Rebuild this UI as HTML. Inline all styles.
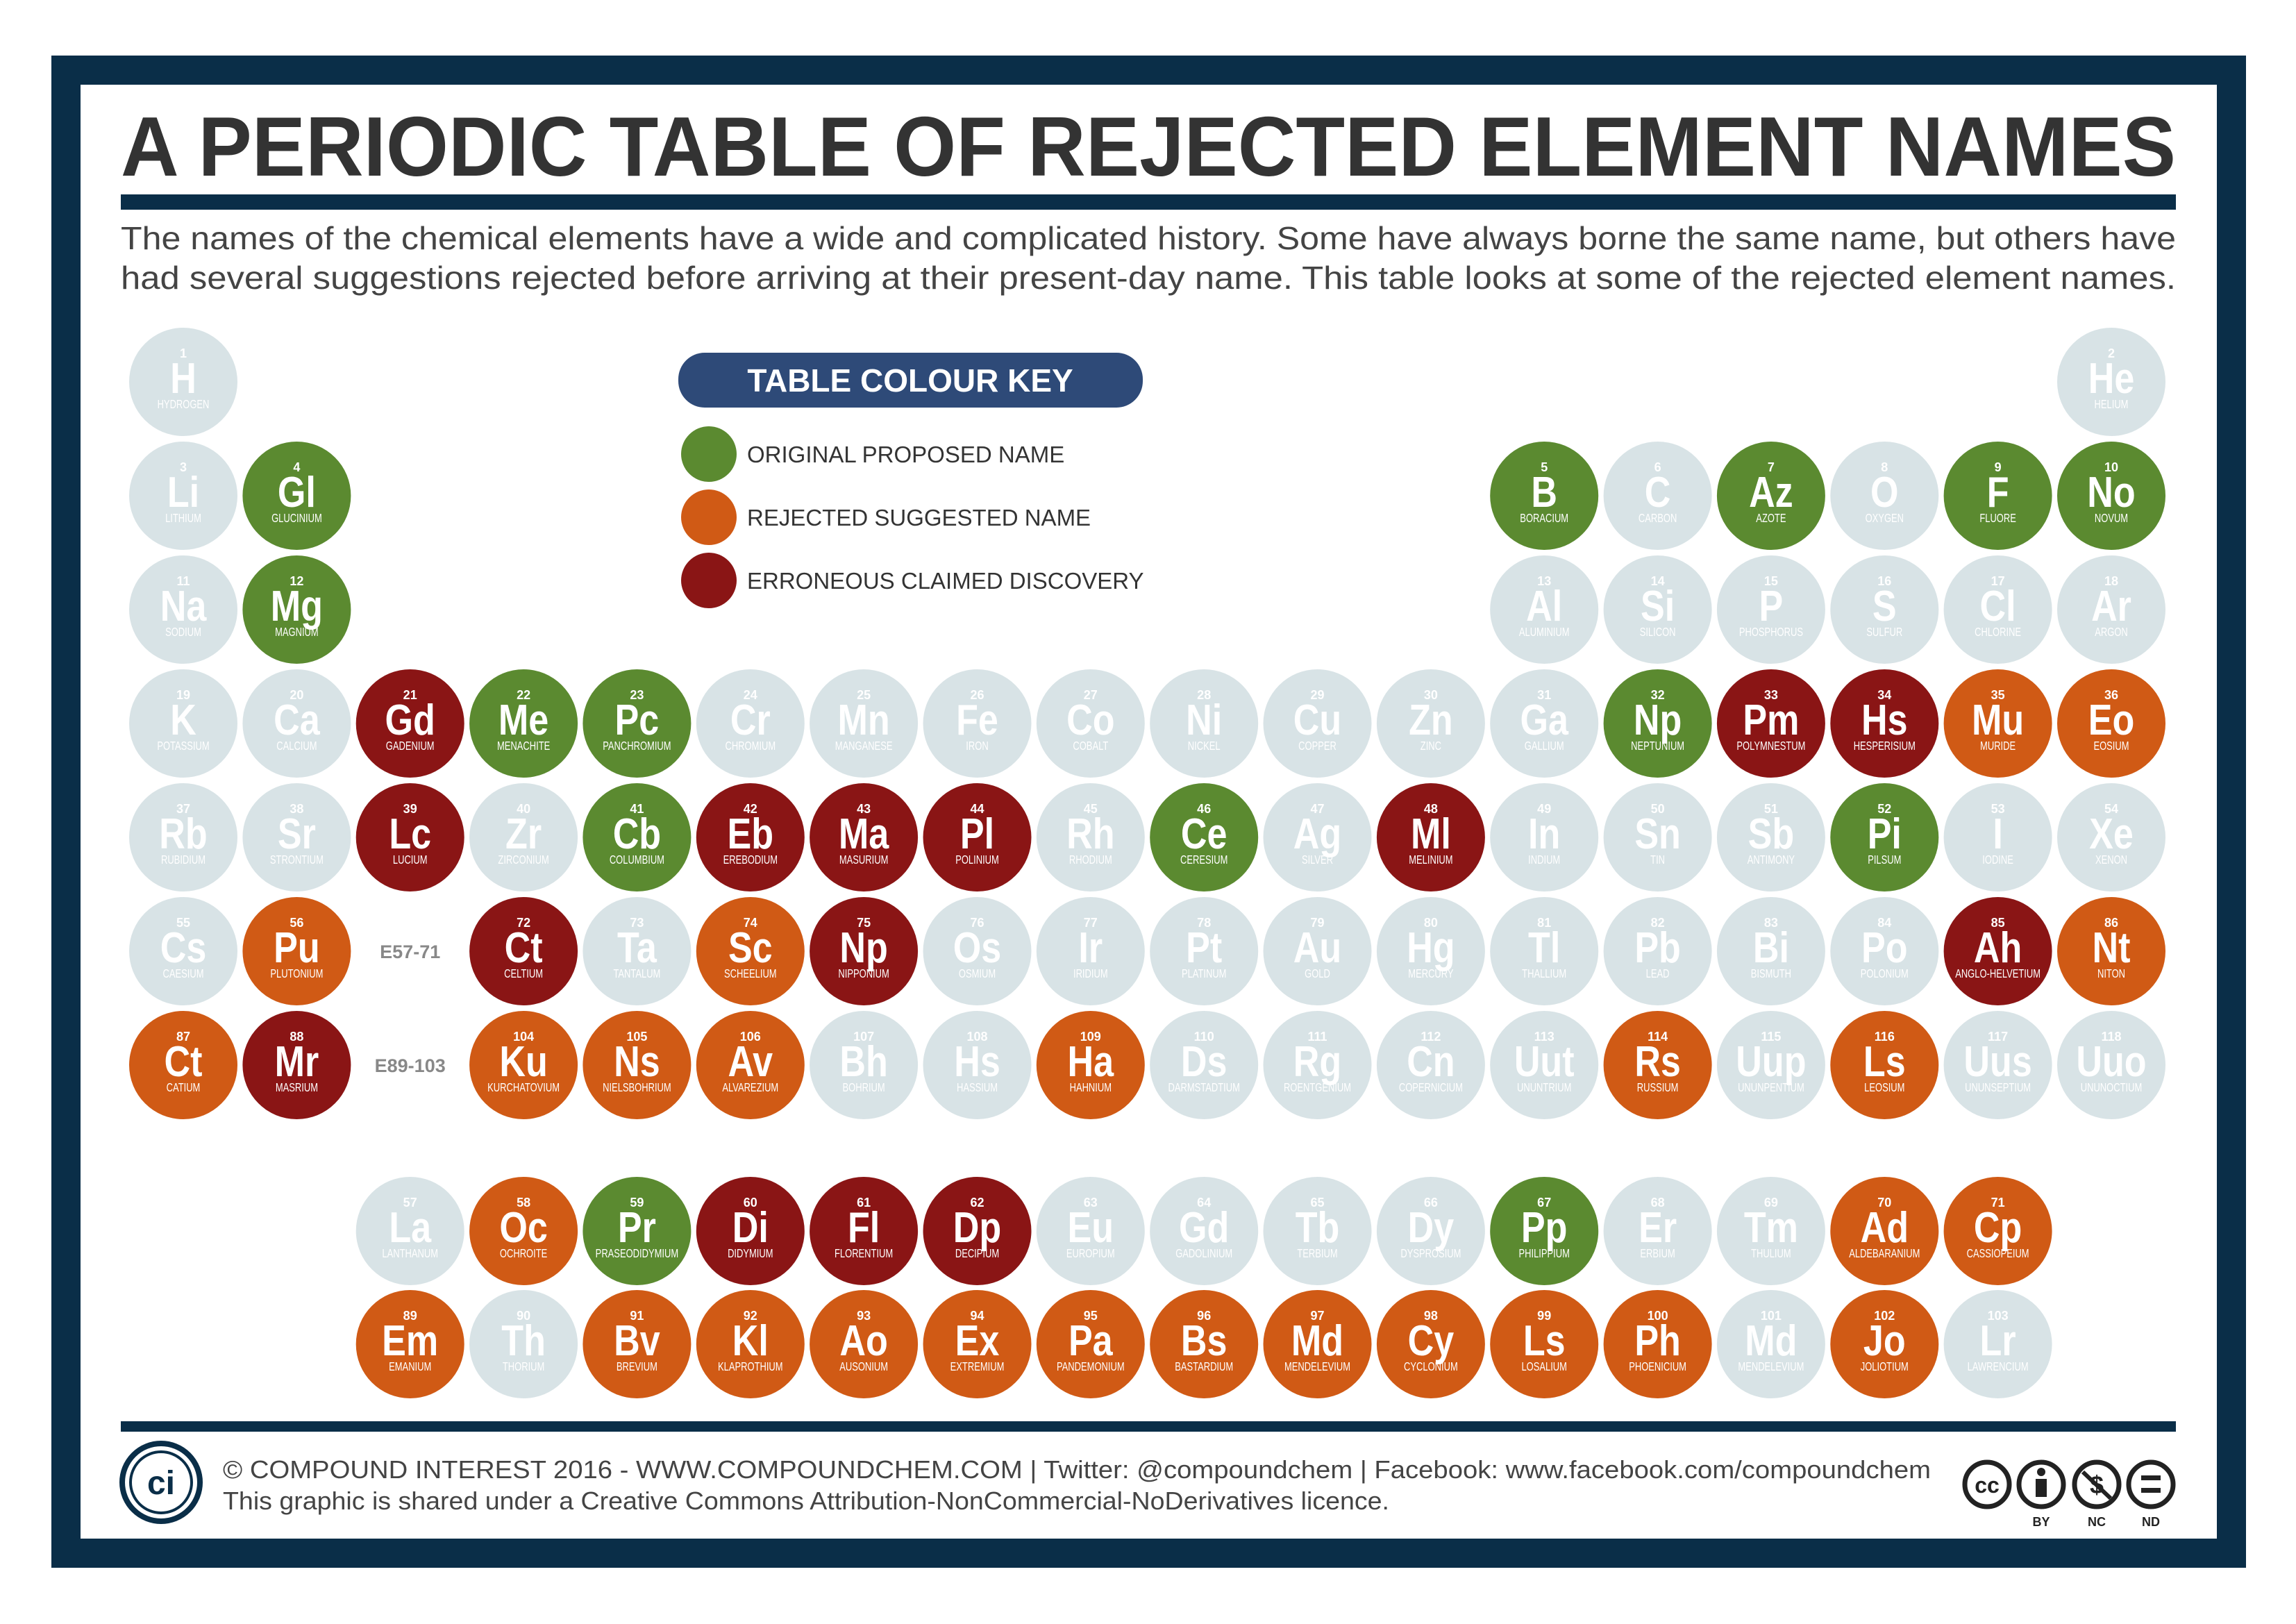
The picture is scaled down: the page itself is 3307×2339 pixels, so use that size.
<!DOCTYPE html>
<html><head><meta charset="utf-8"><style>
html,body{margin:0;padding:0;background:#fff}
svg{display:block}
text{font-family:"Liberation Sans",sans-serif}
.n{font-size:18px;font-weight:bold;fill:#fff;text-anchor:middle}
.s{font-family:"Liberation Sans Narrow","Liberation Sans",sans-serif;font-size:62px;font-weight:bold;fill:#fff;text-anchor:middle;transform:scaleX(.84)}
.m{font-family:"Liberation Sans Narrow","Liberation Sans",sans-serif;font-size:18px;fill:#fff;text-anchor:middle;transform:scaleX(.72)}
.x{fill:#d8e3e6}.g{fill:#5b8a30}.o{fill:#d05a15}.r{fill:#8a1515}
.lab{font-size:27px;font-weight:bold;fill:#888;text-anchor:middle}
.leg{font-size:33px;fill:#333}
</style></head><body>
<svg width="3307" height="2339" viewBox="0 0 3307 2339" xmlns="http://www.w3.org/2000/svg">
<rect x="74" y="80" width="3161" height="2178" fill="#0a2e48"/>
<rect x="116" y="122" width="3077" height="2094" fill="#fff"/>
<text x="174" y="253" font-size="122" font-weight="bold" fill="#333" textLength="2960" lengthAdjust="spacingAndGlyphs">A PERIODIC TABLE OF REJECTED ELEMENT NAMES</text>
<rect x="174" y="280" width="2960" height="22" fill="#0a2e48"/>
<text x="174" y="359" font-size="46" fill="#444" textLength="2960" lengthAdjust="spacingAndGlyphs">The names of the chemical elements have a wide and complicated history. Some have always borne the same name, but others have</text>
<text x="174" y="416" font-size="46" fill="#444" textLength="2960" lengthAdjust="spacingAndGlyphs">had several suggestions rejected before arriving at their present-day name. This table looks at some of the rejected element names.</text>

<rect x="977" y="508" width="669" height="79" rx="38" fill="#2e4a78"/>
<text x="1311" y="564" font-size="46" font-weight="bold" fill="#fff" text-anchor="middle">TABLE COLOUR KEY</text>
<circle cx="1021" cy="654" r="40" class="g"/><text x="1076" y="666" class="leg">ORIGINAL PROPOSED NAME</text>
<circle cx="1021" cy="745" r="40" class="o"/><text x="1076" y="757" class="leg">REJECTED SUGGESTED NAME</text>
<circle cx="1021" cy="836" r="40" class="r"/><text x="1076" y="848" class="leg">ERRONEOUS CLAIMED DISCOVERY</text>

<!-- Row 1 -->
<g transform="translate(264,550)"><circle r="78" class="x"/><text class="n" y="-35">1</text><text class="s" y="16">H</text><text class="m" y="38">HYDROGEN</text></g>
<g transform="translate(3041,550)"><circle r="78" class="x"/><text class="n" y="-35">2</text><text class="s" y="16">He</text><text class="m" y="38">HELIUM</text></g>
<!-- Row 2 -->
<g transform="translate(264,714)"><circle r="78" class="x"/><text class="n" y="-35">3</text><text class="s" y="16">Li</text><text class="m" y="38">LITHIUM</text></g>
<g transform="translate(427.4,714)"><circle r="78" class="g"/><text class="n" y="-35">4</text><text class="s" y="16">Gl</text><text class="m" y="38">GLUCINIUM</text></g>
<g transform="translate(2224.2,714)"><circle r="78" class="g"/><text class="n" y="-35">5</text><text class="s" y="16">B</text><text class="m" y="38">BORACIUM</text></g>
<g transform="translate(2387.6,714)"><circle r="78" class="x"/><text class="n" y="-35">6</text><text class="s" y="16">C</text><text class="m" y="38">CARBON</text></g>
<g transform="translate(2550.9,714)"><circle r="78" class="g"/><text class="n" y="-35">7</text><text class="s" y="16">Az</text><text class="m" y="38">AZOTE</text></g>
<g transform="translate(2714.3,714)"><circle r="78" class="x"/><text class="n" y="-35">8</text><text class="s" y="16">O</text><text class="m" y="38">OXYGEN</text></g>
<g transform="translate(2877.6,714)"><circle r="78" class="g"/><text class="n" y="-35">9</text><text class="s" y="16">F</text><text class="m" y="38">FLUORE</text></g>
<g transform="translate(3041,714)"><circle r="78" class="g"/><text class="n" y="-35">10</text><text class="s" y="16">No</text><text class="m" y="38">NOVUM</text></g>
<!-- Row 3 -->
<g transform="translate(264,878)"><circle r="78" class="x"/><text class="n" y="-35">11</text><text class="s" y="16">Na</text><text class="m" y="38">SODIUM</text></g>
<g transform="translate(427.4,878)"><circle r="78" class="g"/><text class="n" y="-35">12</text><text class="s" y="16">Mg</text><text class="m" y="38">MAGNIUM</text></g>
<g transform="translate(2224.2,878)"><circle r="78" class="x"/><text class="n" y="-35">13</text><text class="s" y="16">Al</text><text class="m" y="38">ALUMINIUM</text></g>
<g transform="translate(2387.6,878)"><circle r="78" class="x"/><text class="n" y="-35">14</text><text class="s" y="16">Si</text><text class="m" y="38">SILICON</text></g>
<g transform="translate(2550.9,878)"><circle r="78" class="x"/><text class="n" y="-35">15</text><text class="s" y="16">P</text><text class="m" y="38">PHOSPHORUS</text></g>
<g transform="translate(2714.3,878)"><circle r="78" class="x"/><text class="n" y="-35">16</text><text class="s" y="16">S</text><text class="m" y="38">SULFUR</text></g>
<g transform="translate(2877.6,878)"><circle r="78" class="x"/><text class="n" y="-35">17</text><text class="s" y="16">Cl</text><text class="m" y="38">CHLORINE</text></g>
<g transform="translate(3041,878)"><circle r="78" class="x"/><text class="n" y="-35">18</text><text class="s" y="16">Ar</text><text class="m" y="38">ARGON</text></g>
<!-- Row 4 -->
<g transform="translate(264,1042)"><circle r="78" class="x"/><text class="n" y="-35">19</text><text class="s" y="16">K</text><text class="m" y="38">POTASSIUM</text></g>
<g transform="translate(427.4,1042)"><circle r="78" class="x"/><text class="n" y="-35">20</text><text class="s" y="16">Ca</text><text class="m" y="38">CALCIUM</text></g>
<g transform="translate(590.7,1042)"><circle r="78" class="r"/><text class="n" y="-35">21</text><text class="s" y="16">Gd</text><text class="m" y="38">GADENIUM</text></g>
<g transform="translate(754.1,1042)"><circle r="78" class="g"/><text class="n" y="-35">22</text><text class="s" y="16">Me</text><text class="m" y="38">MENACHITE</text></g>
<g transform="translate(917.4,1042)"><circle r="78" class="g"/><text class="n" y="-35">23</text><text class="s" y="16">Pc</text><text class="m" y="38">PANCHROMIUM</text></g>
<g transform="translate(1080.8,1042)"><circle r="78" class="x"/><text class="n" y="-35">24</text><text class="s" y="16">Cr</text><text class="m" y="38">CHROMIUM</text></g>
<g transform="translate(1244.1,1042)"><circle r="78" class="x"/><text class="n" y="-35">25</text><text class="s" y="16">Mn</text><text class="m" y="38">MANGANESE</text></g>
<g transform="translate(1407.5,1042)"><circle r="78" class="x"/><text class="n" y="-35">26</text><text class="s" y="16">Fe</text><text class="m" y="38">IRON</text></g>
<g transform="translate(1570.8,1042)"><circle r="78" class="x"/><text class="n" y="-35">27</text><text class="s" y="16">Co</text><text class="m" y="38">COBALT</text></g>
<g transform="translate(1734.2,1042)"><circle r="78" class="x"/><text class="n" y="-35">28</text><text class="s" y="16">Ni</text><text class="m" y="38">NICKEL</text></g>
<g transform="translate(1897.5,1042)"><circle r="78" class="x"/><text class="n" y="-35">29</text><text class="s" y="16">Cu</text><text class="m" y="38">COPPER</text></g>
<g transform="translate(2060.9,1042)"><circle r="78" class="x"/><text class="n" y="-35">30</text><text class="s" y="16">Zn</text><text class="m" y="38">ZINC</text></g>
<g transform="translate(2224.2,1042)"><circle r="78" class="x"/><text class="n" y="-35">31</text><text class="s" y="16">Ga</text><text class="m" y="38">GALLIUM</text></g>
<g transform="translate(2387.6,1042)"><circle r="78" class="g"/><text class="n" y="-35">32</text><text class="s" y="16">Np</text><text class="m" y="38">NEPTUNIUM</text></g>
<g transform="translate(2550.9,1042)"><circle r="78" class="r"/><text class="n" y="-35">33</text><text class="s" y="16">Pm</text><text class="m" y="38">POLYMNESTUM</text></g>
<g transform="translate(2714.3,1042)"><circle r="78" class="r"/><text class="n" y="-35">34</text><text class="s" y="16">Hs</text><text class="m" y="38">HESPERISIUM</text></g>
<g transform="translate(2877.6,1042)"><circle r="78" class="o"/><text class="n" y="-35">35</text><text class="s" y="16">Mu</text><text class="m" y="38">MURIDE</text></g>
<g transform="translate(3041,1042)"><circle r="78" class="o"/><text class="n" y="-35">36</text><text class="s" y="16">Eo</text><text class="m" y="38">EOSIUM</text></g>
<!-- Row 5 -->
<g transform="translate(264,1206)"><circle r="78" class="x"/><text class="n" y="-35">37</text><text class="s" y="16">Rb</text><text class="m" y="38">RUBIDIUM</text></g>
<g transform="translate(427.4,1206)"><circle r="78" class="x"/><text class="n" y="-35">38</text><text class="s" y="16">Sr</text><text class="m" y="38">STRONTIUM</text></g>
<g transform="translate(590.7,1206)"><circle r="78" class="r"/><text class="n" y="-35">39</text><text class="s" y="16">Lc</text><text class="m" y="38">LUCIUM</text></g>
<g transform="translate(754.1,1206)"><circle r="78" class="x"/><text class="n" y="-35">40</text><text class="s" y="16">Zr</text><text class="m" y="38">ZIRCONIUM</text></g>
<g transform="translate(917.4,1206)"><circle r="78" class="g"/><text class="n" y="-35">41</text><text class="s" y="16">Cb</text><text class="m" y="38">COLUMBIUM</text></g>
<g transform="translate(1080.8,1206)"><circle r="78" class="r"/><text class="n" y="-35">42</text><text class="s" y="16">Eb</text><text class="m" y="38">EREBODIUM</text></g>
<g transform="translate(1244.1,1206)"><circle r="78" class="r"/><text class="n" y="-35">43</text><text class="s" y="16">Ma</text><text class="m" y="38">MASURIUM</text></g>
<g transform="translate(1407.5,1206)"><circle r="78" class="r"/><text class="n" y="-35">44</text><text class="s" y="16">Pl</text><text class="m" y="38">POLINIUM</text></g>
<g transform="translate(1570.8,1206)"><circle r="78" class="x"/><text class="n" y="-35">45</text><text class="s" y="16">Rh</text><text class="m" y="38">RHODIUM</text></g>
<g transform="translate(1734.2,1206)"><circle r="78" class="g"/><text class="n" y="-35">46</text><text class="s" y="16">Ce</text><text class="m" y="38">CERESIUM</text></g>
<g transform="translate(1897.5,1206)"><circle r="78" class="x"/><text class="n" y="-35">47</text><text class="s" y="16">Ag</text><text class="m" y="38">SILVER</text></g>
<g transform="translate(2060.9,1206)"><circle r="78" class="r"/><text class="n" y="-35">48</text><text class="s" y="16">Ml</text><text class="m" y="38">MELINIUM</text></g>
<g transform="translate(2224.2,1206)"><circle r="78" class="x"/><text class="n" y="-35">49</text><text class="s" y="16">In</text><text class="m" y="38">INDIUM</text></g>
<g transform="translate(2387.6,1206)"><circle r="78" class="x"/><text class="n" y="-35">50</text><text class="s" y="16">Sn</text><text class="m" y="38">TIN</text></g>
<g transform="translate(2550.9,1206)"><circle r="78" class="x"/><text class="n" y="-35">51</text><text class="s" y="16">Sb</text><text class="m" y="38">ANTIMONY</text></g>
<g transform="translate(2714.3,1206)"><circle r="78" class="g"/><text class="n" y="-35">52</text><text class="s" y="16">Pi</text><text class="m" y="38">PILSUM</text></g>
<g transform="translate(2877.6,1206)"><circle r="78" class="x"/><text class="n" y="-35">53</text><text class="s" y="16">I</text><text class="m" y="38">IODINE</text></g>
<g transform="translate(3041,1206)"><circle r="78" class="x"/><text class="n" y="-35">54</text><text class="s" y="16">Xe</text><text class="m" y="38">XENON</text></g>
<!-- Row 6 -->
<g transform="translate(264,1370)"><circle r="78" class="x"/><text class="n" y="-35">55</text><text class="s" y="16">Cs</text><text class="m" y="38">CAESIUM</text></g>
<g transform="translate(427.4,1370)"><circle r="78" class="o"/><text class="n" y="-35">56</text><text class="s" y="16">Pu</text><text class="m" y="38">PLUTONIUM</text></g>
<text class="lab" x="590.7" y="1380">E57-71</text>
<g transform="translate(754.1,1370)"><circle r="78" class="r"/><text class="n" y="-35">72</text><text class="s" y="16">Ct</text><text class="m" y="38">CELTIUM</text></g>
<g transform="translate(917.4,1370)"><circle r="78" class="x"/><text class="n" y="-35">73</text><text class="s" y="16">Ta</text><text class="m" y="38">TANTALUM</text></g>
<g transform="translate(1080.8,1370)"><circle r="78" class="o"/><text class="n" y="-35">74</text><text class="s" y="16">Sc</text><text class="m" y="38">SCHEELIUM</text></g>
<g transform="translate(1244.1,1370)"><circle r="78" class="r"/><text class="n" y="-35">75</text><text class="s" y="16">Np</text><text class="m" y="38">NIPPONIUM</text></g>
<g transform="translate(1407.5,1370)"><circle r="78" class="x"/><text class="n" y="-35">76</text><text class="s" y="16">Os</text><text class="m" y="38">OSMIUM</text></g>
<g transform="translate(1570.8,1370)"><circle r="78" class="x"/><text class="n" y="-35">77</text><text class="s" y="16">Ir</text><text class="m" y="38">IRIDIUM</text></g>
<g transform="translate(1734.2,1370)"><circle r="78" class="x"/><text class="n" y="-35">78</text><text class="s" y="16">Pt</text><text class="m" y="38">PLATINUM</text></g>
<g transform="translate(1897.5,1370)"><circle r="78" class="x"/><text class="n" y="-35">79</text><text class="s" y="16">Au</text><text class="m" y="38">GOLD</text></g>
<g transform="translate(2060.9,1370)"><circle r="78" class="x"/><text class="n" y="-35">80</text><text class="s" y="16">Hg</text><text class="m" y="38">MERCURY</text></g>
<g transform="translate(2224.2,1370)"><circle r="78" class="x"/><text class="n" y="-35">81</text><text class="s" y="16">Tl</text><text class="m" y="38">THALLIUM</text></g>
<g transform="translate(2387.6,1370)"><circle r="78" class="x"/><text class="n" y="-35">82</text><text class="s" y="16">Pb</text><text class="m" y="38">LEAD</text></g>
<g transform="translate(2550.9,1370)"><circle r="78" class="x"/><text class="n" y="-35">83</text><text class="s" y="16">Bi</text><text class="m" y="38">BISMUTH</text></g>
<g transform="translate(2714.3,1370)"><circle r="78" class="x"/><text class="n" y="-35">84</text><text class="s" y="16">Po</text><text class="m" y="38">POLONIUM</text></g>
<g transform="translate(2877.6,1370)"><circle r="78" class="r"/><text class="n" y="-35">85</text><text class="s" y="16">Ah</text><text class="m" y="38">ANGLO-HELVETIUM</text></g>
<g transform="translate(3041,1370)"><circle r="78" class="o"/><text class="n" y="-35">86</text><text class="s" y="16">Nt</text><text class="m" y="38">NITON</text></g>
<!-- Row 7 -->
<g transform="translate(264,1534)"><circle r="78" class="o"/><text class="n" y="-35">87</text><text class="s" y="16">Ct</text><text class="m" y="38">CATIUM</text></g>
<g transform="translate(427.4,1534)"><circle r="78" class="r"/><text class="n" y="-35">88</text><text class="s" y="16">Mr</text><text class="m" y="38">MASRIUM</text></g>
<text class="lab" x="590.7" y="1544">E89-103</text>
<g transform="translate(754.1,1534)"><circle r="78" class="o"/><text class="n" y="-35">104</text><text class="s" y="16">Ku</text><text class="m" y="38">KURCHATOVIUM</text></g>
<g transform="translate(917.4,1534)"><circle r="78" class="o"/><text class="n" y="-35">105</text><text class="s" y="16">Ns</text><text class="m" y="38">NIELSBOHRIUM</text></g>
<g transform="translate(1080.8,1534)"><circle r="78" class="o"/><text class="n" y="-35">106</text><text class="s" y="16">Av</text><text class="m" y="38">ALVAREZIUM</text></g>
<g transform="translate(1244.1,1534)"><circle r="78" class="x"/><text class="n" y="-35">107</text><text class="s" y="16">Bh</text><text class="m" y="38">BOHRIUM</text></g>
<g transform="translate(1407.5,1534)"><circle r="78" class="x"/><text class="n" y="-35">108</text><text class="s" y="16">Hs</text><text class="m" y="38">HASSIUM</text></g>
<g transform="translate(1570.8,1534)"><circle r="78" class="o"/><text class="n" y="-35">109</text><text class="s" y="16">Ha</text><text class="m" y="38">HAHNIUM</text></g>
<g transform="translate(1734.2,1534)"><circle r="78" class="x"/><text class="n" y="-35">110</text><text class="s" y="16">Ds</text><text class="m" y="38">DARMSTADTIUM</text></g>
<g transform="translate(1897.5,1534)"><circle r="78" class="x"/><text class="n" y="-35">111</text><text class="s" y="16">Rg</text><text class="m" y="38">ROENTGENIUM</text></g>
<g transform="translate(2060.9,1534)"><circle r="78" class="x"/><text class="n" y="-35">112</text><text class="s" y="16">Cn</text><text class="m" y="38">COPERNICIUM</text></g>
<g transform="translate(2224.2,1534)"><circle r="78" class="x"/><text class="n" y="-35">113</text><text class="s" y="16">Uut</text><text class="m" y="38">UNUNTRIUM</text></g>
<g transform="translate(2387.6,1534)"><circle r="78" class="o"/><text class="n" y="-35">114</text><text class="s" y="16">Rs</text><text class="m" y="38">RUSSIUM</text></g>
<g transform="translate(2550.9,1534)"><circle r="78" class="x"/><text class="n" y="-35">115</text><text class="s" y="16">Uup</text><text class="m" y="38">UNUNPENTIUM</text></g>
<g transform="translate(2714.3,1534)"><circle r="78" class="o"/><text class="n" y="-35">116</text><text class="s" y="16">Ls</text><text class="m" y="38">LEOSIUM</text></g>
<g transform="translate(2877.6,1534)"><circle r="78" class="x"/><text class="n" y="-35">117</text><text class="s" y="16">Uus</text><text class="m" y="38">UNUNSEPTIUM</text></g>
<g transform="translate(3041,1534)"><circle r="78" class="x"/><text class="n" y="-35">118</text><text class="s" y="16">Uuo</text><text class="m" y="38">UNUNOCTIUM</text></g>
<!-- Lanthanides -->
<g transform="translate(590.7,1773)"><circle r="78" class="x"/><text class="n" y="-35">57</text><text class="s" y="16">La</text><text class="m" y="38">LANTHANUM</text></g>
<g transform="translate(754.1,1773)"><circle r="78" class="o"/><text class="n" y="-35">58</text><text class="s" y="16">Oc</text><text class="m" y="38">OCHROITE</text></g>
<g transform="translate(917.4,1773)"><circle r="78" class="g"/><text class="n" y="-35">59</text><text class="s" y="16">Pr</text><text class="m" y="38">PRASEODIDYMIUM</text></g>
<g transform="translate(1080.8,1773)"><circle r="78" class="r"/><text class="n" y="-35">60</text><text class="s" y="16">Di</text><text class="m" y="38">DIDYMIUM</text></g>
<g transform="translate(1244.1,1773)"><circle r="78" class="r"/><text class="n" y="-35">61</text><text class="s" y="16">Fl</text><text class="m" y="38">FLORENTIUM</text></g>
<g transform="translate(1407.5,1773)"><circle r="78" class="r"/><text class="n" y="-35">62</text><text class="s" y="16">Dp</text><text class="m" y="38">DECIPIUM</text></g>
<g transform="translate(1570.8,1773)"><circle r="78" class="x"/><text class="n" y="-35">63</text><text class="s" y="16">Eu</text><text class="m" y="38">EUROPIUM</text></g>
<g transform="translate(1734.2,1773)"><circle r="78" class="x"/><text class="n" y="-35">64</text><text class="s" y="16">Gd</text><text class="m" y="38">GADOLINIUM</text></g>
<g transform="translate(1897.5,1773)"><circle r="78" class="x"/><text class="n" y="-35">65</text><text class="s" y="16">Tb</text><text class="m" y="38">TERBIUM</text></g>
<g transform="translate(2060.9,1773)"><circle r="78" class="x"/><text class="n" y="-35">66</text><text class="s" y="16">Dy</text><text class="m" y="38">DYSPROSIUM</text></g>
<g transform="translate(2224.2,1773)"><circle r="78" class="g"/><text class="n" y="-35">67</text><text class="s" y="16">Pp</text><text class="m" y="38">PHILIPPIUM</text></g>
<g transform="translate(2387.6,1773)"><circle r="78" class="x"/><text class="n" y="-35">68</text><text class="s" y="16">Er</text><text class="m" y="38">ERBIUM</text></g>
<g transform="translate(2550.9,1773)"><circle r="78" class="x"/><text class="n" y="-35">69</text><text class="s" y="16">Tm</text><text class="m" y="38">THULIUM</text></g>
<g transform="translate(2714.3,1773)"><circle r="78" class="o"/><text class="n" y="-35">70</text><text class="s" y="16">Ad</text><text class="m" y="38">ALDEBARANIUM</text></g>
<g transform="translate(2877.6,1773)"><circle r="78" class="o"/><text class="n" y="-35">71</text><text class="s" y="16">Cp</text><text class="m" y="38">CASSIOPEIUM</text></g>
<!-- Actinides -->
<g transform="translate(590.7,1936)"><circle r="78" class="o"/><text class="n" y="-35">89</text><text class="s" y="16">Em</text><text class="m" y="38">EMANIUM</text></g>
<g transform="translate(754.1,1936)"><circle r="78" class="x"/><text class="n" y="-35">90</text><text class="s" y="16">Th</text><text class="m" y="38">THORIUM</text></g>
<g transform="translate(917.4,1936)"><circle r="78" class="o"/><text class="n" y="-35">91</text><text class="s" y="16">Bv</text><text class="m" y="38">BREVIUM</text></g>
<g transform="translate(1080.8,1936)"><circle r="78" class="o"/><text class="n" y="-35">92</text><text class="s" y="16">Kl</text><text class="m" y="38">KLAPROTHIUM</text></g>
<g transform="translate(1244.1,1936)"><circle r="78" class="o"/><text class="n" y="-35">93</text><text class="s" y="16">Ao</text><text class="m" y="38">AUSONIUM</text></g>
<g transform="translate(1407.5,1936)"><circle r="78" class="o"/><text class="n" y="-35">94</text><text class="s" y="16">Ex</text><text class="m" y="38">EXTREMIUM</text></g>
<g transform="translate(1570.8,1936)"><circle r="78" class="o"/><text class="n" y="-35">95</text><text class="s" y="16">Pa</text><text class="m" y="38">PANDEMONIUM</text></g>
<g transform="translate(1734.2,1936)"><circle r="78" class="o"/><text class="n" y="-35">96</text><text class="s" y="16">Bs</text><text class="m" y="38">BASTARDIUM</text></g>
<g transform="translate(1897.5,1936)"><circle r="78" class="o"/><text class="n" y="-35">97</text><text class="s" y="16">Md</text><text class="m" y="38">MENDELEVIUM</text></g>
<g transform="translate(2060.9,1936)"><circle r="78" class="o"/><text class="n" y="-35">98</text><text class="s" y="16">Cy</text><text class="m" y="38">CYCLONIUM</text></g>
<g transform="translate(2224.2,1936)"><circle r="78" class="o"/><text class="n" y="-35">99</text><text class="s" y="16">Ls</text><text class="m" y="38">LOSALIUM</text></g>
<g transform="translate(2387.6,1936)"><circle r="78" class="o"/><text class="n" y="-35">100</text><text class="s" y="16">Ph</text><text class="m" y="38">PHOENICIUM</text></g>
<g transform="translate(2550.9,1936)"><circle r="78" class="x"/><text class="n" y="-35">101</text><text class="s" y="16">Md</text><text class="m" y="38">MENDELEVIUM</text></g>
<g transform="translate(2714.3,1936)"><circle r="78" class="o"/><text class="n" y="-35">102</text><text class="s" y="16">Jo</text><text class="m" y="38">JOLIOTIUM</text></g>
<g transform="translate(2877.6,1936)"><circle r="78" class="x"/><text class="n" y="-35">103</text><text class="s" y="16">Lr</text><text class="m" y="38">LAWRENCIUM</text></g>

<!-- Footer -->
<rect x="174" y="2047" width="2960" height="15" fill="#0a2e48"/>
<circle cx="232" cy="2135" r="56" fill="none" stroke="#0a2e48" stroke-width="8"/>
<circle cx="232" cy="2135" r="44" fill="none" stroke="#0a2e48" stroke-width="4"/>
<text x="232" y="2152" font-size="48" font-weight="bold" fill="#0a2e48" text-anchor="middle">ci</text>
<text x="321" y="2129" font-size="36" fill="#444" textLength="2460" lengthAdjust="spacingAndGlyphs">© COMPOUND INTEREST 2016 - WWW.COMPOUNDCHEM.COM | Twitter: @compoundchem | Facebook: www.facebook.com/compoundchem</text>
<text x="321" y="2174" font-size="36" fill="#444" textLength="1680" lengthAdjust="spacingAndGlyphs">This graphic is shared under a Creative Commons Attribution-NonCommercial-NoDerivatives licence.</text>
<g fill="#fff" stroke="#222" stroke-width="7">
<circle cx="2862" cy="2138" r="32"/><circle cx="2940" cy="2138" r="32"/><circle cx="3020" cy="2138" r="32"/><circle cx="3098" cy="2138" r="32"/>
</g>
<text x="2862" y="2150" font-size="32" font-weight="bold" fill="#222" text-anchor="middle">cc</text>
<circle cx="2940" cy="2120" r="6" fill="#222"/><rect x="2932" y="2130" width="16" height="26" fill="#222"/>
<text x="3020" y="2151" font-size="36" font-weight="bold" fill="#222" text-anchor="middle">$</text>
<line x1="3000" y1="2120" x2="3040" y2="2158" stroke="#222" stroke-width="6"/>
<rect x="3084" y="2125" width="28" height="7" fill="#222"/><rect x="3084" y="2143" width="28" height="7" fill="#222"/>
<text x="2940" y="2198" font-size="18" font-weight="bold" fill="#222" text-anchor="middle">BY</text>
<text x="3020" y="2198" font-size="18" font-weight="bold" fill="#222" text-anchor="middle">NC</text>
<text x="3098" y="2198" font-size="18" font-weight="bold" fill="#222" text-anchor="middle">ND</text>
</svg>
</body></html>
